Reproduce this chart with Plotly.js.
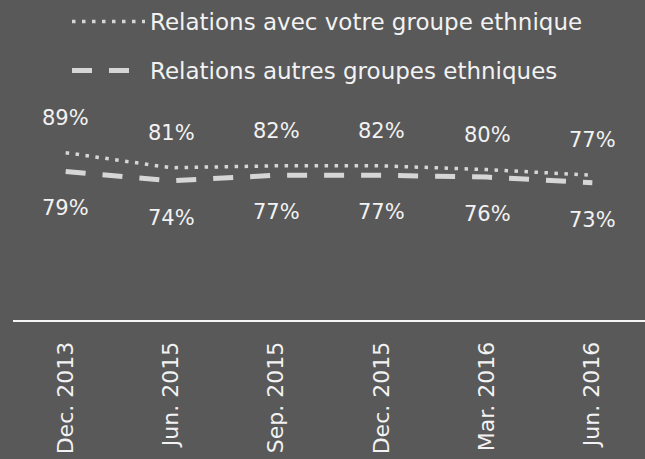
<!DOCTYPE html>
<html>
<head>
<meta charset="utf-8">
<script src="https://cdn.plot.ly/plotly-3.0.1.min.js"></script>
<style>html,body{margin:0;padding:0;background:#595959;}#chart{width:645px;height:459px;}</style>
</head>
<body>
<div id="chart"></div>
<script>
var categories = ["Dec. 2013", "Jun. 2015", "Sep. 2015", "Dec. 2015", "Mar. 2016", "Jun. 2016"];
var ownGroup = [89, 81, 82, 82, 80, 77];
var otherGroups = [79, 74, 77, 77, 76, 73];
var seriesNames = ["Relations avec votre groupe ethnique", "Relations autres groupes ethniques"];

var FONT = "DejaVu Sans, sans-serif";
var lineColor = "#d6d6d6";
var textColor = "#f2f2f2";

var traces = [
  {
    x: categories, y: ownGroup, name: seriesNames[0], type: "scatter", mode: "lines",
    line: {color: lineColor, width: 3.5, dash: "3.5px,6.5px"},
    legend: "legend", hoverinfo: "skip"
  },
  {
    x: categories, y: otherGroups, name: seriesNames[1], type: "scatter", mode: "lines",
    line: {color: lineColor, width: 5, dash: "20px,17px"},
    legend: "legend2", hoverinfo: "skip"
  }
];

var annotations = [];
categories.forEach(function (c, i) {
  annotations.push({x: c, y: ownGroup[i], xref: "x", yref: "y", text: ownGroup[i] + "%",
    showarrow: false, yshift: 35, font: {family: FONT, size: 21, color: textColor}});
  annotations.push({x: c, y: otherGroups[i], xref: "x", yref: "y", text: otherGroups[i] + "%",
    showarrow: false, yshift: -37, font: {family: FONT, size: 21, color: textColor}});
});

var legendFont = {family: FONT, size: 23, color: textColor};
var layout = {
  width: 645, height: 459,
  paper_bgcolor: "#595959", plot_bgcolor: "#595959",
  margin: {l: 13, r: 0, t: 132, b: 139, autoexpand: false},
  font: {family: FONT, color: textColor},
  showlegend: true,
  legend: {
    xref: "container", yref: "container", x: 67 / 645, y: 1 + 3 / 459, xanchor: "left", yanchor: "top",
    bgcolor: "rgba(0,0,0,0)", itemwidth: 73, font: legendFont
  },
  legend2: {
    xref: "container", yref: "container", x: 67 / 645, y: 1 - 49 / 459, xanchor: "left", yanchor: "top",
    bgcolor: "rgba(0,0,0,0)", itemwidth: 73, font: legendFont
  },
  xaxis: {
    type: "category", showline: true, linecolor: "#f5f5f5", linewidth: 2,
    showgrid: false, zeroline: false, ticks: "", tickangle: -90,
    tickfont: {family: FONT, size: 22, color: textColor}, ticklabelstandoff: 11,
    range: [-0.5, 5.5], fixedrange: true
  },
  yaxis: {range: [0, 100], visible: false, fixedrange: true},
  annotations: annotations
};

Plotly.newPlot("chart", traces, layout, {displayModeBar: false, staticPlot: true});
</script>
</body>
</html>
